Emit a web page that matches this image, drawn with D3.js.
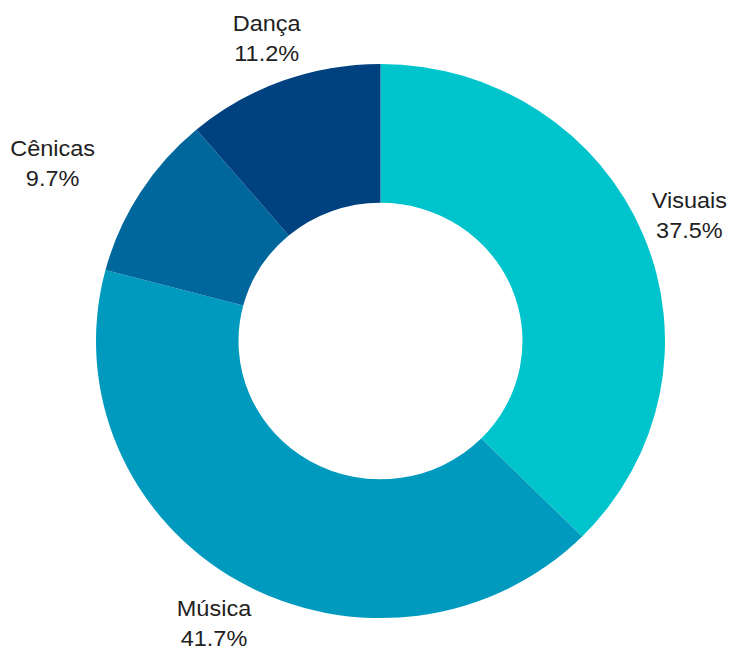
<!DOCTYPE html>
<html>
<head>
<meta charset="utf-8">
<script src="https://cdn.jsdelivr.net/npm/d3@7"></script>
<style>
  body { margin: 0; background: #fff; }
  text { font-family: "Liberation Sans", Arial, sans-serif; }
</style>
</head>
<body>
<svg width="733" height="654"></svg>
<script>
// data
const categories = ['Visuais', 'Música', 'Cênicas', 'Dança'];
const shares = [37.5, 41.7, 9.7, 11.2];
const colors = ['#00c4cc', '#009abf', '#00679c', '#004280'];

const data = categories.map((c, i) => ({ name: c, value: shares[i] }));

const cx = 380.5;
const cy = 341;
const outerR = 284.5;
const innerR = 142;
const squash = 0.974; // ring is a touch flatter than round in the picture

const svg = d3.select('svg');
const g = svg.append('g').attr('transform', `translate(${cx}, ${cy})`);
const ring = g.append('g').attr('transform', `scale(1, ${squash})`);

const color = d3.scaleOrdinal().domain(categories).range(colors);

const pie = d3.pie().value((d) => d.value).sort(null);
const arc = d3.arc().innerRadius(innerR).outerRadius(outerR);

const arcs = pie(data);

ring.selectAll('path')
  .data(arcs)
  .join('path')
  .attr('d', arc)
  .attr('fill', (d) => color(d.data.name));

// labels: two lines, pushed outward along the mid angle until clear of the ring
const fontSize = 23.5;
const textSquash = 0.93;
const lineGap = 30.5;
const gap = 4;
const nudge = { 'Cênicas': -40 };

const labels = g.selectAll('g.label')
  .data(arcs)
  .join('g')
  .attr('class', 'label');

const inner = labels.append('g');

inner.append('text')
  .attr('class', 'name')
  .attr('text-anchor', 'middle')
  .attr('font-size', fontSize)
  .attr('fill', '#222')
  .text((d) => d.data.name);

inner.append('text')
  .attr('class', 'pct')
  .attr('text-anchor', 'middle')
  .attr('font-size', fontSize)
  .attr('fill', '#222')
  .attr('y', lineGap / textSquash)
  .text((d) => d3.format('.1f')(d.data.value) + '%');

inner.attr('transform', `scale(1, ${textSquash})`);

labels.each(function (d) {
  const sel = d3.select(this);
  const w = Math.max(
    sel.select('.name').node().getComputedTextLength(),
    sel.select('.pct').node().getComputedTextLength()
  );
  const h = 48;
  const a = (d.startAngle + d.endAngle) / 2;
  const sx = Math.sin(a);
  const sy = -Math.cos(a);
  let r = outerR;
  let x = 0, y = 0;
  for (; r < outerR + 200; r += 1) {
    x = r * sx;
    y = r * sy * squash;
    const nx = Math.max(x - w / 2, Math.min(0, x + w / 2));
    const ny = Math.max(y - h / 2, Math.min(0, y + h / 2));
    if (Math.hypot(nx, ny) >= outerR + gap) break;
  }
  x += nudge[d.data.name] || 0;
  sel.attr('transform', `translate(${x}, ${y - 8})`);
});
</script>
</body>
</html>
